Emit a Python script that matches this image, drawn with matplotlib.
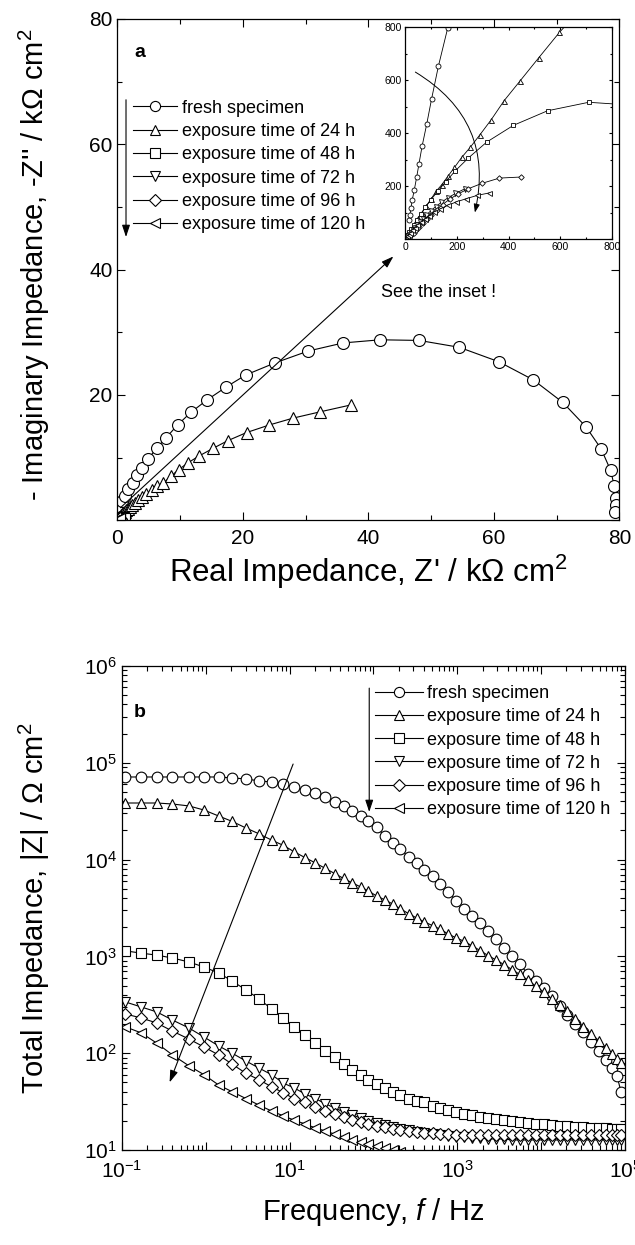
import matplotlib
matplotlib.use('Agg')
import numpy as np
import matplotlib.pyplot as plt
from matplotlib.ticker import MultipleLocator, FixedLocator, FuncFormatter, LogLocator, NullFormatter
from matplotlib.patches import FancyArrowPatch

plt.rcParams['font.family'] = ['Liberation Sans', 'DejaVu Sans']
plt.rcParams['mathtext.fontset'] = 'custom'
plt.rcParams['mathtext.rm'] = 'Liberation Sans'
plt.rcParams['mathtext.it'] = 'Liberation Sans:italic'
plt.rcParams['mathtext.bf'] = 'Liberation Sans:bold'

labels = ['fresh specimen', 'exposure time of 24 h', 'exposure time of 48 h',
          'exposure time of 72 h', 'exposure time of 96 h', 'exposure time of 120 h']
markers = ['o', '^', 's', 'v', 'D', '<']
msize = [1.0, 1.0, 0.9, 1.0, 0.78, 1.0]   # relative marker size per symbol

# ---- Nyquist data (kOhm cm2) ----
fresh_re = [0.017, 0.019, 0.023, 0.028, 0.036, 0.045, 0.054, 0.066, 0.084, 0.103, 0.129, 0.165,
            0.3, 0.7, 1.2, 1.75, 2.5, 3.2, 4.0, 4.9, 6.3, 7.8, 9.6, 11.7, 14.3, 17.4,
            20.5, 25.1, 30.4, 36.0, 41.9, 48.1, 54.5, 60.8, 66.3, 71.0, 74.7, 77.1, 78.6, 79.2, 79.4, 79.4, 79.3]
fresh_im = [0.073, 0.092, 0.117, 0.148, 0.186, 0.233, 0.284, 0.350, 0.434, 0.530, 0.652, 0.796,
            2.1, 3.0, 3.9, 5.0, 6.0, 7.2, 8.4, 9.8, 11.5, 13.2, 15.2, 17.2, 19.2, 21.3,
            23.2, 25.1, 27.0, 28.3, 28.8, 28.7, 27.6, 25.3, 22.4, 18.8, 14.9, 11.4, 8.0, 5.5, 3.5, 2.4, 1.4]

h24_re = [0.008, 0.014, 0.021, 0.030, 0.040, 0.052, 0.066, 0.082, 0.100, 0.120,
          0.142, 0.165, 0.191, 0.219, 0.252, 0.290, 0.333, 0.383, 0.445, 0.516,
          0.597, 0.70, 0.83, 0.98, 1.16, 1.38, 1.64, 1.95, 2.32, 2.76,
          3.28, 3.9, 4.65, 5.5, 6.4, 7.3, 8.5, 9.8, 11.3, 13.1,
          15.3, 17.6, 20.6, 24.2, 28.0, 32.3, 37.2]
h24_im = [0.012, 0.021, 0.032, 0.046, 0.062, 0.080, 0.100, 0.125, 0.150, 0.180,
          0.205, 0.236, 0.270, 0.308, 0.346, 0.394, 0.450, 0.522, 0.597, 0.683,
          0.780, 0.89, 1.03, 1.19, 1.37, 1.58, 1.82, 2.1, 2.42, 2.8,
          3.22, 3.7, 4.25, 4.85, 5.4, 5.9, 7.0, 8.1, 9.2, 10.3,
          11.5, 12.7, 14.0, 15.2, 16.3, 17.3, 18.4]

h48_re = [0.009, 0.016, 0.024, 0.034, 0.046, 0.061, 0.079, 0.100, 0.126, 0.157,
          0.195, 0.245, 0.316, 0.419, 0.551, 0.710, 0.88, 1.04, 1.15]
h48_im = [0.014, 0.025, 0.038, 0.054, 0.073, 0.095, 0.120, 0.148, 0.180, 0.216,
          0.258, 0.306, 0.366, 0.429, 0.484, 0.516, 0.505, 0.47, 0.42]

h72_re = [0.007, 0.011, 0.016, 0.022, 0.029, 0.037, 0.046, 0.057, 0.069, 0.083,
          0.099, 0.118, 0.140, 0.165, 0.195, 0.232]
h72_im = [0.006, 0.011, 0.017, 0.024, 0.032, 0.041, 0.052, 0.064, 0.077, 0.091,
          0.106, 0.122, 0.138, 0.155, 0.172, 0.190]

h96_re = [0.016, 0.024, 0.033, 0.044, 0.056, 0.070, 0.085, 0.102, 0.122, 0.145,
          0.172, 0.205, 0.245, 0.297, 0.365, 0.448]
h96_im = [0.010, 0.016, 0.024, 0.034, 0.046, 0.060, 0.075, 0.092, 0.110, 0.130,
          0.150, 0.170, 0.190, 0.210, 0.230, 0.234]

h120_re = [0.009, 0.014, 0.020, 0.028, 0.037, 0.048, 0.061, 0.076, 0.093, 0.113,
           0.137, 0.165, 0.198, 0.236, 0.280, 0.326]
h120_im = [0.010, 0.016, 0.024, 0.033, 0.042, 0.053, 0.064, 0.076, 0.088, 0.101,
           0.114, 0.127, 0.140, 0.152, 0.165, 0.174]

nyq_re = [fresh_re, h24_re, h48_re, h72_re, h96_re, h120_re]
nyq_im = [fresh_im, h24_im, h48_im, h72_im, h96_im, h120_im]

# ---- Bode data: frequency (Hz) and |Z| (Ohm cm2) ----
freq = [0.11, 0.17, 0.26, 0.40, 0.63, 0.95, 1.42, 2.06, 3.01, 4.34, 6.08, 8.43,
        11.2, 15.2, 20.3, 26.7, 34.4, 44.0, 56.1, 70.6, 86.7, 109, 137, 169,
        210, 262, 327, 406, 506, 630, 782, 973, 1210, 1510, 1870, 2330, 2900, 3600,
        4480, 5570, 6920, 8610, 10700, 13300, 16600, 20600, 25600, 31800, 39600,
        49200, 59600, 70100, 80400, 89700]

z_fresh = [71300, 71300, 71300, 71300, 71300, 71300, 71300, 69700, 68100, 64900, 63300, 60400,
           56200, 52400, 48800, 44400, 39400, 35800, 31800, 28200, 25100, 21700, 17500, 14800,
           12900, 10600, 9230, 7810, 6770, 5600, 4630, 3730, 3090, 2610, 2210, 1830, 1510, 1220,
           1010, 834, 658, 557, 472, 390, 307, 248, 200, 166, 131, 105, 85, 70, 58, 40]
z_24 = [38400, 38400, 38400, 37500, 35800, 32500, 28200, 24800, 21200, 18400, 15900, 14000,
        12100, 10500, 9230, 8090, 7180, 6380, 5730, 5210, 4740, 4210, 3830, 3480,
        3090, 2770, 2490, 2270, 2080, 1900, 1700, 1550, 1430, 1280, 1150, 1020, 918, 824,
        732, 650, 570, 494, 429, 367, 315, 270, 225, 187, 158, 134, 113, 98, 87, 79]
z_48 = [1140, 1080, 1030, 962, 875, 777, 674, 557, 450, 363, 286, 231,
        187, 154, 127, 105, 91, 77, 67, 60, 53, 48, 44, 40,
        37, 34, 32, 31, 28.5, 27.2, 25.9, 24.7, 23.5, 23.0, 21.9, 21.4, 20.9, 20.4,
        19.9, 19.5, 19.0, 18.6, 18.6, 18.1, 17.7, 17.7, 17.3, 17.3, 16.9, 16.9, 16.9, 16.5, 16.5, 16.5]
z_72 = [338, 300, 267, 220, 182, 147, 119, 100, 83, 70, 60, 49,
        44, 38, 34, 30, 27.2, 24.7, 23.0, 21.4, 19.9, 19.0, 18.1, 17.3,
        16.5, 16.1, 15.3, 15.0, 14.6, 14.3, 14.0, 13.6, 13.6, 13.3, 13.3, 13.0, 13.0, 13.0,
        12.7, 12.7, 12.7, 12.7, 12.7, 12.7, 12.7, 12.7, 12.7, 12.7, 12.7, 12.7, 12.7, 12.7, 12.7, 12.7]
z_96 = [254, 231, 205, 169, 140, 116, 96, 77, 62, 53, 45, 39,
        34, 31, 27.8, 25.3, 23.5, 21.9, 20.4, 19.5, 18.6, 17.7, 17.3, 16.5,
        16.1, 15.7, 15.3, 15.0, 15.0, 14.6, 14.6, 14.3, 14.3, 14.3, 14.3, 14.3, 14.3, 14.3,
        14.3, 14.3, 14.3, 14.3, 14.3, 14.3, 14.3, 14.3, 14.3, 14.3, 14.3, 14.3, 14.3, 14.3, 14.3, 14.3]
z_120 = [187, 162, 127, 96, 74, 60, 47, 40, 34, 29, 25.3, 22.5,
         20.4, 18.6, 16.9, 15.7, 14.6, 13.6, 12.7, 12.1, 11.5, 11.0, 10.5, 10.0,
         9.5, 9.1, 8.8, 8.6, 8.4, 8.3, 8.2, 8.1, 8.0, 8.0, 8.0, 8.0, 8.0, 8.0,
         8.0, 8.0, 8.0, 8.0, 8.0, 8.0, 8.0, 8.0, 8.0, 8.0, 8.0, 8.0, 8.0, 8.0, 8.0, 8.0]
bode_z = [z_fresh, z_24, z_48, z_72, z_96, z_120]


def style_ticks(ax, size, major, minor):
    ax.tick_params(which='both', direction='in', top=True, right=True, width=0.8, labelsize=size)
    ax.tick_params(which='major', length=major)
    ax.tick_params(which='minor', length=minor)
    for s in ax.spines.values():
        s.set_linewidth(0.9)


fig = plt.figure(figsize=(6.35, 12.45), dpi=100)

# ================= (a) Nyquist =================
ax1 = fig.add_axes([0.1847, 0.5821, 0.7906, 0.4027])
for i in range(6):
    ax1.plot(nyq_re[i], nyq_im[i], marker=markers[i], ms=8.6 * msize[i], mfc='white', mec='k',
             mew=0.8, color='k', lw=0.8, label=labels[i])
ax1.set_xlim(0, 80)
ax1.set_ylim(0, 80)
ax1.xaxis.set_major_locator(MultipleLocator(20))
ax1.xaxis.set_minor_locator(MultipleLocator(10))
ax1.yaxis.set_major_locator(MultipleLocator(20))
ax1.yaxis.set_minor_locator(MultipleLocator(10))
ax1.yaxis.set_major_formatter(FuncFormatter(lambda v, p: '' if v == 0 else '%d' % v))
style_ticks(ax1, 15, 6, 3.5)
ax1.tick_params(axis='x', pad=6.5)
ax1.set_xlabel("Real Impedance, Z' / k\u03a9 cm$^{2}$", fontsize=22.5)
ax1.set_ylabel("- Imaginary Impedance, -Z'' / k\u03a9 cm$^{2}$", fontsize=21)
ax1.xaxis.set_label_coords(0.5, -0.065)
ax1.yaxis.set_label_coords(-0.130, 0.51)

ax1.legend(loc='upper left', bbox_to_anchor=(0.0313, 0.839), frameon=False, fontsize=13,
           borderpad=0, borderaxespad=0, labelspacing=0.35, handlelength=2.44,
           handletextpad=0.3, markerscale=0.85)
ax1.annotate('', xy=(1.39, 45.2), xytext=(1.39, 67.1),
             arrowprops=dict(arrowstyle='-|>,head_length=0.6,head_width=0.2', color='k',
                             lw=0.8, shrinkA=0, shrinkB=0, mutation_scale=12))
ax1.annotate('', xy=(44.0, 42.1), xytext=(0.5, 2.0),
             arrowprops=dict(arrowstyle='-|>,head_length=0.6,head_width=0.2', color='k',
                             lw=0.8, shrinkA=0, shrinkB=0, mutation_scale=12))
ax1.text(42.0, 36.3, 'See the inset !', fontsize=13, va='center')
ax1.text(3.6, 74.7, 'a', fontsize=14, fontweight='bold', ha='center', va='center')

# inset, same data in Ohm cm2
axin = fig.add_axes([0.6378, 0.8080, 0.3260, 0.1703])
for i in range(6):
    axin.plot(np.array(nyq_re[i]) * 1000, np.array(nyq_im[i]) * 1000, marker=markers[i],
              ms=3.6 * msize[i], mfc='white', mec='k', mew=0.6, color='k', lw=0.6)
axin.set_xlim(0, 800)
axin.set_ylim(0, 800)
axin.xaxis.set_major_locator(MultipleLocator(200))
axin.xaxis.set_minor_locator(MultipleLocator(100))
axin.yaxis.set_major_locator(MultipleLocator(200))
axin.yaxis.set_minor_locator(MultipleLocator(100))
axin.yaxis.set_major_formatter(FuncFormatter(lambda v, p: '' if v == 0 else '%d' % v))
style_ticks(axin, 7.5, 2.5, 1.5)
axin.tick_params(pad=2)
arc = FancyArrowPatch((40, 630), (270, 100), connectionstyle='arc3,rad=-0.36',
                      arrowstyle='-|>,head_length=0.5,head_width=0.18', mutation_scale=10,
                      color='k', lw=0.7, shrinkA=0, shrinkB=0)
axin.add_patch(arc)

# ================= (b) Bode =================
ax2 = fig.add_axes([0.1921, 0.0763, 0.7921, 0.3888])
for i in range(6):
    ax2.plot(freq, bode_z[i], marker=markers[i], ms=7.7 * msize[i], mfc='white', mec='k',
             mew=0.8, color='k', lw=0.8, label=labels[i])
ax2.set_xscale('log')
ax2.set_yscale('log')
ax2.set_xlim(0.1, 1e5)
ax2.set_ylim(10, 1e6)
ax2.xaxis.set_major_locator(FixedLocator([10.0 ** k for k in range(-1, 6)]))
ax2.xaxis.set_major_formatter(FuncFormatter(
    lambda v, p: r'$\mathdefault{10^{%d}}$' % round(np.log10(v)) if round(np.log10(v)) % 2 else ''))
ax2.xaxis.set_minor_locator(LogLocator(base=10, subs=range(2, 10), numticks=20))
ax2.xaxis.set_minor_formatter(NullFormatter())
ax2.yaxis.set_major_locator(FixedLocator([10.0 ** k for k in range(1, 7)]))
ax2.yaxis.set_major_formatter(FuncFormatter(lambda v, p: r'$\mathdefault{10^{%d}}$' % round(np.log10(v))))
ax2.yaxis.set_minor_locator(LogLocator(base=10, subs=range(2, 10), numticks=20))
ax2.yaxis.set_minor_formatter(NullFormatter())
style_ticks(ax2, 15, 6, 3.5)
ax2.tick_params(axis='x', pad=7)
ax2.set_xlabel('Frequency, $\\mathit{f}$ / Hz', fontsize=21)
ax2.set_ylabel('Total Impedance, |Z| / \u03a9 cm$^{2}$', fontsize=21)
ax2.xaxis.set_label_coords(0.5, -0.095)
ax2.yaxis.set_label_coords(-0.139, 0.5)

ax2.legend(loc='upper left', bbox_to_anchor=(0.503, 0.960), frameon=False, fontsize=13,
           borderpad=0, borderaxespad=0, labelspacing=0.34, handlelength=2.67,
           handletextpad=0.2, markerscale=0.95)
ax2.annotate('', xy=(89, 3.1e4), xytext=(89, 5.9e5),
             arrowprops=dict(arrowstyle='-|>,head_length=0.6,head_width=0.2', color='k',
                             lw=0.8, shrinkA=0, shrinkB=0, mutation_scale=12))
ax2.annotate('', xy=(0.37, 50), xytext=(11, 9.7e4),
             arrowprops=dict(arrowstyle='-|>,head_length=0.6,head_width=0.2', color='k',
                             lw=0.8, shrinkA=0, shrinkB=0, mutation_scale=12))
ax2.text(0.036, 0.903, 'b', transform=ax2.transAxes, fontsize=14, fontweight='bold',
         ha='center', va='center')

fig.savefig('out.png', dpi=100)
